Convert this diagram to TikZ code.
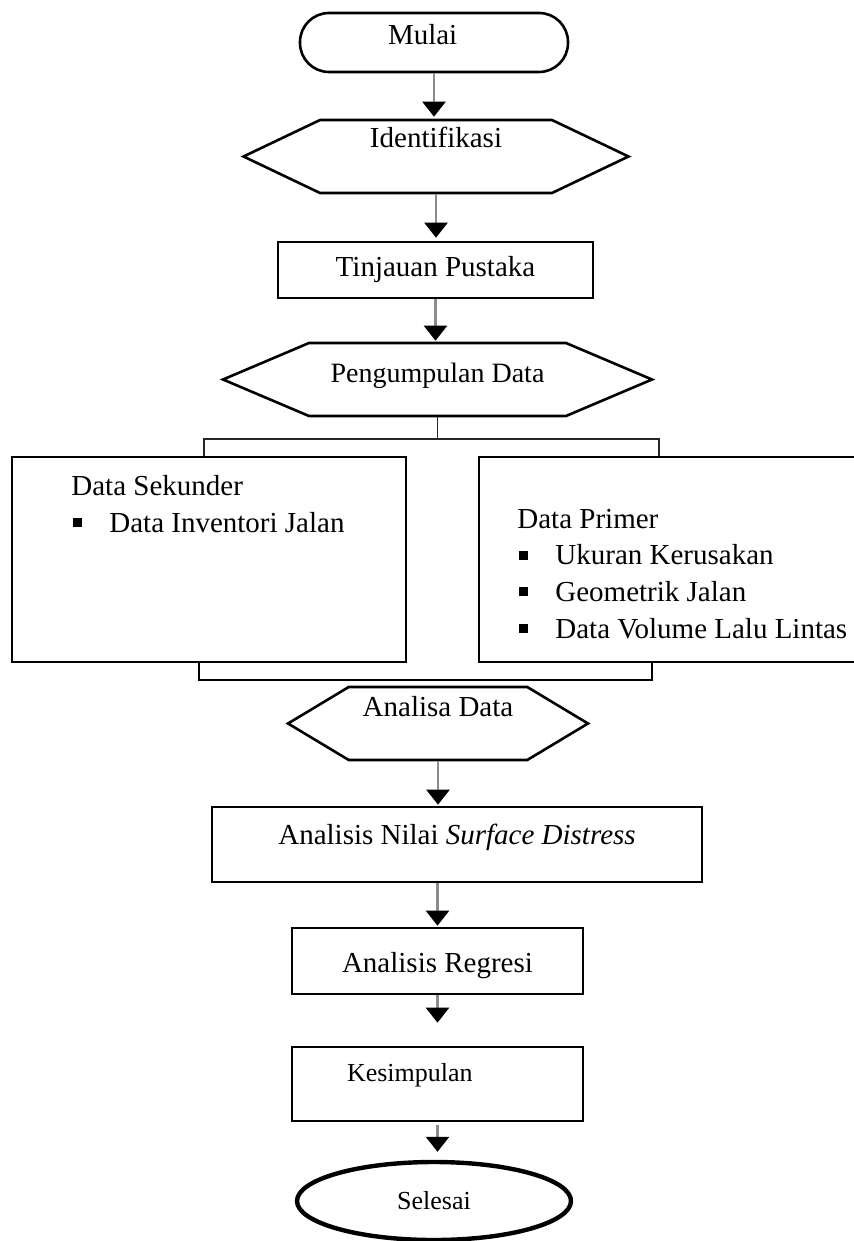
\documentclass[tikz,border=0pt]{standalone}
\usepackage{fontspec}
\setmainfont{Liberation Serif}
\usepackage{tikz}
\usetikzlibrary{arrows.meta, positioning, shapes.geometric, shapes.symbols}
\newcommand{\fsmain}{\fontsize{14.5}{18.4}\selectfont}
\newcommand{\fssmall}{\fontsize{13}{16}\selectfont}
\newcommand{\blt}{\makebox[19pt][l]{\hspace{1pt}\rule[2.6pt]{4.5pt}{4.5pt}}}
\tikzset{
  flowline/.style={line width=1.3pt,draw=black},
  procbox/.style={rectangle,flowline,inner sep=0pt,font=\fsmain},
  hexbox/.style={signal,signal to=east and west,flowline,inner sep=0pt,font=\fsmain},
  termpill/.style={rectangle,rounded corners=14.5pt,flowline,inner sep=0pt,font=\fsmain},
  endoval/.style={ellipse,line width=2.2pt,draw=black,inner sep=0pt,font=\fssmall},
  flowarrow/.style={-{Triangle[width=11.5pt,length=7.5pt,color=black]},line width=1.2pt,draw=black!45},
  branchline/.style={line width=0.7pt,draw=black!85},
  joinline/.style={line width=1.1pt,draw=black},
}

\begin{document}
\begin{tikzpicture}[x=0.5pt,y=-0.5pt]
  \useasboundingbox (0,0) rectangle (854,1241);
  % Start and first steps
  \node[termpill,minimum width=134pt,minimum height=29.5pt,text width=46pt,inner xsep=44pt,
        align=left,text height=15.8pt,text depth=13.7pt] (mulai) at (434,42.5) {Mulai};
  \node[hexbox,minimum width=192.5pt,signal pointer angle=51,text height=13.8pt,text depth=22.7pt]
    (iden) at (436,156.5) {Identifikasi};
  \node[procbox,minimum width=157.5pt,minimum height=28pt] (tinj) at (435.5,270) {Tinjauan Pustaka};
  \node[hexbox,minimum width=214.5pt,signal pointer angle=46,text height=19.6pt,text depth=16.9pt,
        font=\fontsize{14}{17}\selectfont] (peng) at (437.5,379.5) {Pengumpulan Data};
  \draw[flowarrow,shorten >=1pt] (mulai.south) -- (mulai.south |- iden.north);
  \draw[flowarrow,shorten >=1.5pt] (iden.south) -- (iden.south |- tinj.north);
  \draw[flowarrow,shorten >=0.5pt] (tinj.south) -- (tinj.south |- peng.north);
  % Data boxes
  \node[procbox,minimum width=197pt,minimum height=102.5pt] (sek) at (209,559.5) {};
  \node[procbox,minimum width=200.5pt,minimum height=102.5pt] (prim) at (679.5,559.5) {};
  \node[font=\fsmain,inner sep=0pt,anchor=base west] (seklist) at (71,495.5)
    {\begin{tabular}[t]{@{}l@{}}Data Sekunder\\ \blt Data Inventori Jalan\end{tabular}};
  \node[font=\fsmain,inner sep=0pt,anchor=base west] (primlist) at (517,528)
    {\begin{tabular}[t]{@{}l@{}}Data Primer\\ \blt Ukuran Kerusakan\\ \blt Geometrik Jalan\\
     \blt Data Volume Lalu Lintas\end{tabular}};
  \coordinate (splitL) at (204,439);
  \coordinate (splitR) at (659,439);
  \draw[branchline] (peng.south) -- (peng.south |- splitL);
  \draw[branchline] (sek.north -| splitL) -- (splitL) -- (splitR) -- (prim.north -| splitR);
  \coordinate (joinL) at (199,680);
  \coordinate (joinR) at (652,680);
  \draw[joinline] (sek.south -| joinL) -- (joinL) -- (joinR) -- (prim.south -| joinR);
  % Analysis and end
  \node[hexbox,minimum width=150pt,signal pointer angle=62,text height=14.8pt,text depth=21.7pt]
    (anal) at (438,723.5) {Analisa Data};
  \node[procbox,minimum width=245pt,text height=18.8pt,text depth=18.7pt] (nilai) at (457,844.5)
    {Analisis Nilai \textit{Surface Distress}};
  \node[procbox,minimum width=145.5pt,text height=22.3pt,text depth=10.7pt] (regr) at (437.5,961)
    {Analisis Regresi};
  \node[procbox,font=\fssmall,text width=90.5pt,inner xsep=27.5pt,align=left,
        text height=17.3pt,text depth=19.7pt] (kesi) at (437.5,1084) {Kesimpulan};
  \node[endoval,minimum width=137pt,minimum height=39pt] (seles) at (434,1201) {Selesai};
  \draw[flowarrow,shorten >=0.5pt] (anal.south) -- (anal.south |- nilai.north);
  \draw[flowarrow,shorten >=0.5pt] (regr.north |- nilai.south) -- (regr.north);
  \draw[flowarrow,shorten >=11.5pt] (regr.south) -- (kesi.north);
  \draw[flowarrow,shorten <=1.5pt,shorten >=4pt] (kesi.south) -- (kesi.south |- seles.north);
\end{tikzpicture}
\end{document}
